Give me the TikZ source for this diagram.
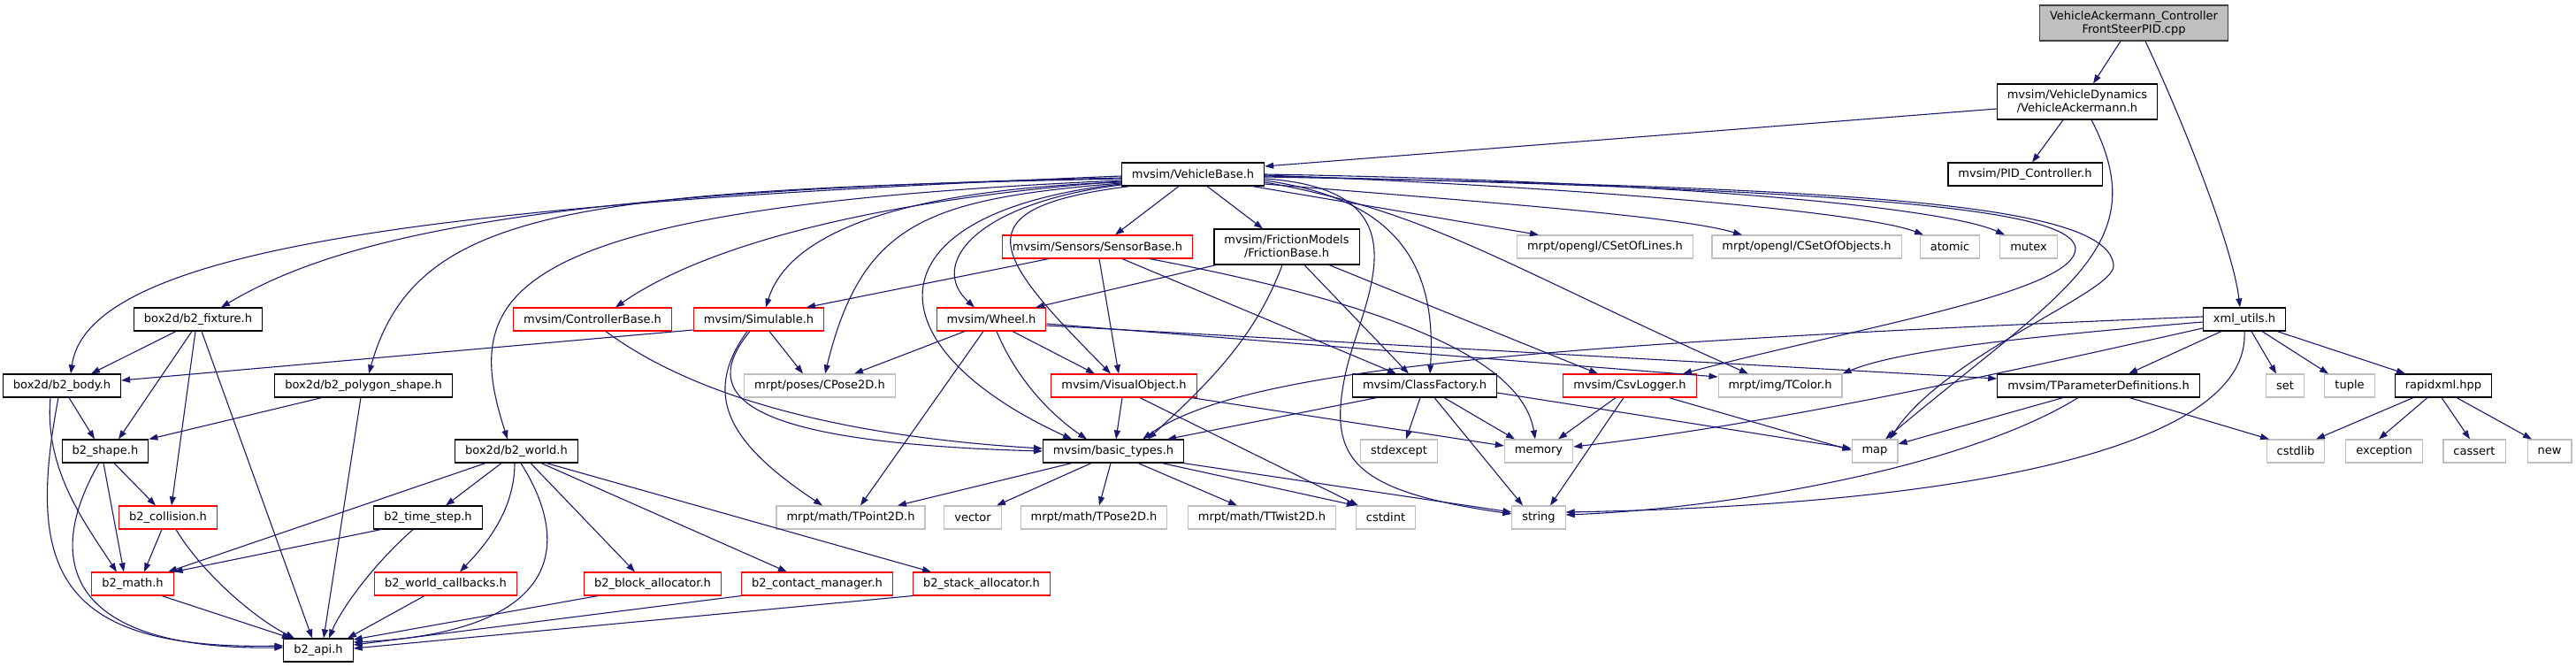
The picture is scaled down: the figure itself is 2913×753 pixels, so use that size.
\documentclass[tikz,border=0pt]{standalone}
\usepackage{fontspec}
\setmainfont{DejaVu Sans}
\usetikzlibrary{positioning, arrows.meta}
\definecolor{edgeblue}{HTML}{191970}
\definecolor{grey75}{HTML}{BFBFBF}
\definecolor{darkgrey}{HTML}{404040}

\begin{document}
\begin{tikzpicture}[
            x=1pt, y=-1pt,
            every node/.style = {
                shape=rectangle, draw=black, line width=1.1pt,
                align=center, font=\fontsize{13}{15}\selectfont,
                inner xsep=11.5pt, inner ysep=0pt, minimum height=26pt
            },
            dep/.style = {draw=edgeblue, line width=1.1pt, -{Triangle[length=10pt,width=7pt]}}
        ]
        \tikzstyle{undoc}=[draw=grey75]
        \tikzstyle{trunc}=[draw=red]
        \tikzstyle{twoline}=[minimum height=40pt]
        \tikzstyle{rootfile}=[fill=grey75, draw=darkgrey, twoline]

        \useasboundingbox (0,0) rectangle (2913,753);

        % top rows
        \node[rootfile] (root) at (2413,26) {VehicleAckermann\_Controller\\FrontSteerPID.cpp};
        \node[twoline] (va) at (2349,115) {mvsim/VehicleDynamics\\/VehicleAckermann.h};
        \node (vb) at (1349,197) {mvsim/VehicleBase.h};
        \node (pid) at (2290,197) {mvsim/PID\_Controller.h};

        \node[trunc] (sensor) at (1241,279) {mvsim/Sensors/SensorBase.h};
        \node[twoline] (friction) at (1455,279) {mvsim/FrictionModels\\/FrictionBase.h};
        \node[undoc] (lines) at (1815,279) {mrpt/opengl/CSetOfLines.h};
        \node[undoc] (objects) at (2043,279) {mrpt/opengl/CSetOfObjects.h};
        \node[undoc] (atomic) at (2205,279) {atomic};
        \node[undoc] (mutex) at (2294,279) {mutex};

        \node (fixture) at (224,361) {box2d/b2\_fixture.h};
        \node[trunc] (ctrl) at (670,361) {mvsim/ControllerBase.h};
        \node[trunc] (simul) at (858,361) {mvsim/Simulable.h};
        \node[trunc] (wheel) at (1121,361) {mvsim/Wheel.h};
        \node (xml) at (2538,361) {xml\_utils.h};

        \node (body) at (70,436) {box2d/b2\_body.h};
        \node (polygon) at (411,436) {box2d/b2\_polygon\_shape.h};
        \node[undoc] (cpose) at (927,436) {mrpt/poses/CPose2D.h};
        \node[trunc] (visual) at (1271,436) {mvsim/VisualObject.h};
        \node (factory) at (1611,436) {mvsim/ClassFactory.h};
        \node[trunc] (csv) at (1843,436) {mvsim/CsvLogger.h};
        \node[undoc] (tcolor) at (2013,436) {mrpt/img/TColor.h};
        \node (tparam) at (2373,436) {mvsim/TParameterDefinitions.h};
        \node[undoc] (set) at (2584,436) {set};
        \node[undoc] (tuple) at (2657,436) {tuple};
        \node (rapidxml) at (2763,436) {rapidxml.hpp};

        \node (shape) at (119,510) {b2\_shape.h};
        \node (world) at (584,510) {box2d/b2\_world.h};
        \node (basic) at (1259,510) {mvsim/basic\_types.h};
        \node[undoc] (stdexcept) at (1582,510) {stdexcept};
        \node[undoc] (memory) at (1740,510) {memory};
        \node[undoc] (map) at (2120,510) {map};
        \node[undoc] (cstdlib) at (2596,510) {cstdlib};
        \node[undoc] (exception) at (2696,510) {exception};
        \node[undoc] (cassert) at (2798,510) {cassert};
        \node[undoc] (new) at (2883,510) {new};

        \node[trunc] (collision) at (190,585) {b2\_collision.h};
        \node (timestep) at (484,585) {b2\_time\_step.h};
        \node[undoc] (tpoint) at (962,585) {mrpt/math/TPoint2D.h};
        \node[undoc] (vector) at (1100,585) {vector};
        \node[undoc] (tpose) at (1237,585) {mrpt/math/TPose2D.h};
        \node[undoc] (ttwist) at (1427,585) {mrpt/math/TTwist2D.h};
        \node[undoc] (cstdint) at (1567,585) {cstdint};
        \node[undoc] (string) at (1740,585) {string};

        \node[trunc] (math) at (150,660) {b2\_math.h};
        \node[trunc] (callbacks) at (504,660) {b2\_world\_callbacks.h};
        \node[trunc] (block) at (738,660) {b2\_block\_allocator.h};
        \node[trunc] (contact) at (924,660) {b2\_contact\_manager.h};
        \node[trunc] (stack) at (1110,660) {b2\_stack\_allocator.h};

        \node (api) at (360,735) {b2\_api.h};

        % root file and VehicleAckermann
        \draw[dep] ([xshift=-15pt]root.south) -- ([xshift=18pt]va.north);
        \draw[dep] ([xshift=13pt]root.south) .. controls (2470,140) and (2525,280) .. ([xshift=-5pt]xml.north);
        \draw[dep] ([yshift=-8pt]va.west) -- ([yshift=9pt]vb.east);
        \draw[dep] ([xshift=-16pt]va.south) -- ([xshift=8pt]pid.north);
        \draw[dep] ([xshift=16pt]va.south) .. controls (2440,280) and (2330,330) .. ([xshift=12pt]map.north);

        % VehicleBase, left side
        \draw[dep] ([yshift=-2pt]vb.west) .. controls (500,230) and (100,280) .. ([xshift=10pt]body.north);
        \draw[dep] ([yshift=-4pt]vb.west) .. controls (600,215) and (380,270) .. ([xshift=26pt]fixture.north);
        \draw[dep] ([yshift=-5pt]vb.west) .. controls (650,215) and (470,235) .. ([xshift=6pt]polygon.north);
        \draw[dep] ([yshift=-7pt]vb.west) .. controls (560,235) and (520,330) .. ([xshift=-10pt]world.north);
        \draw[dep] ([yshift=-8pt]vb.west) .. controls (1000,225) and (800,275) .. ([xshift=26pt]ctrl.north);
        \draw[dep] ([yshift=-9pt]vb.west) .. controls (1000,215) and (890,270) .. ([xshift=8pt]simul.north);
        \draw[dep] ([yshift=-10pt]vb.west) .. controls (1050,225) and (975,250) .. ([xshift=6pt]cpose.north);
        \draw[dep] ([yshift=-11pt]vb.west) .. controls (980,240) and (980,390) .. ([xshift=-47pt]basic.north);
        \draw[dep] ([yshift=-12pt]vb.west) .. controls (1100,230) and (1050,300) .. ([xshift=-19pt]wheel.north);
        \draw[dep] ([xshift=10pt]vb.south west) .. controls (1080,235) and (1125,290) .. ([xshift=-15pt]visual.north);
        \draw[dep] ([xshift=-16pt]vb.south) -- ([xshift=20pt]sensor.north);
        \draw[dep] ([xshift=16pt]vb.south) -- ([xshift=-27pt]friction.north);

        % VehicleBase, right side
        \draw[dep] ([xshift=-14pt]vb.south east) -- ([xshift=-75pt]lines.north);
        \draw[dep] ([yshift=-11pt]vb.east) .. controls (1700,230) and (1900,245) .. ([xshift=-73pt]objects.north);
        \draw[dep] ([yshift=-1pt]vb.east) .. controls (1800,212) and (2110,240) .. ([xshift=-30pt]atomic.north);
        \draw[dep] (vb.east) .. controls (1900,205) and (2200,235) .. ([xshift=-27pt]mutex.north);
        \draw[dep] ([yshift=-2pt]vb.east) .. controls (2100,215) and (2340,235) .. (2347,280)
            .. controls (2350,330) and (2100,370) .. ([xshift=60pt]csv.north);
        \draw[dep] ([yshift=-3pt]vb.east) .. controls (2100,212) and (2385,230) .. (2390,300)
            .. controls (2393,330) and (2200,400) .. ([xshift=17pt]map.north);
        \draw[dep] ([yshift=-9pt]vb.east) .. controls (1620,240) and (1700,300) .. ([xshift=-36pt]tcolor.north);
        \draw[dep] ([yshift=-7pt]vb.east) .. controls (1580,225) and (1625,300) .. ([xshift=6pt]factory.north);
        \draw[dep] ([yshift=-5pt]vb.east) .. controls (1620,215) and (1540,340) .. (1522,420)
            .. controls (1500,520) and (1530,555) .. ([yshift=4pt]string.west);

        % SensorBase and FrictionBase
        \draw[dep] ([xshift=-55pt]sensor.south) -- ([xshift=54pt]simul.north);
        \draw[dep] ([xshift=2pt]sensor.south) -- ([xshift=-6pt]visual.north);
        \draw[dep] ([xshift=28pt]sensor.south) -- ([xshift=-32pt]factory.north);
        \draw[dep] ([xshift=59pt]sensor.south) .. controls (1550,340) and (1720,400) .. ([xshift=-4pt]memory.north);
        \draw[dep] ([xshift=-80pt]friction.south) -- ([xshift=50pt]wheel.north);
        \draw[dep] ([xshift=-5pt]friction.south) .. controls (1420,380) and (1370,430) .. ([xshift=39pt]basic.north);
        \draw[dep] ([xshift=20pt]friction.south) -- ([xshift=-18pt]factory.north);
        \draw[dep] ([xshift=48pt]friction.south) -- ([xshift=-36pt]csv.north);

        % ControllerBase, Simulable, Wheel
        \draw[dep] ([xshift=15pt]ctrl.south) .. controls (760,430) and (900,490) .. ([yshift=3pt]basic.west);
        \draw[dep] ([xshift=-10pt]simul.south) .. controls (790,445) and (830,500) .. (basic.west);
        \draw[dep] ([xshift=-13pt]simul.south) .. controls (790,450) and (830,505) .. ([xshift=-32pt]tpoint.north);
        \draw[dep] ([xshift=12pt]simul.south) -- ([xshift=-19pt]cpose.north);
        \draw[dep] ([yshift=-12pt]simul.west) -- ([yshift=6pt]body.east);
        \draw[dep] ([xshift=-30pt]wheel.south) -- ([xshift=39pt]cpose.north);
        \draw[dep] ([xshift=-9pt]wheel.south) -- ([xshift=11pt]tpoint.north);
        \draw[dep] ([xshift=6pt]wheel.south) .. controls (1150,430) and (1190,470) .. ([xshift=-30pt]basic.north);
        \draw[dep] ([xshift=24pt]wheel.south) -- ([xshift=-33pt]visual.north);
        \draw[dep] ([yshift=-5pt]wheel.east) -- ([yshift=10pt]tcolor.west);
        \draw[dep] ([yshift=-7pt]wheel.east) -- ([yshift=8pt]tparam.west);

        % VisualObject, basic_types
        \draw[dep] ([xshift=-2pt]visual.south) -- ([xshift=3pt]basic.north);
        \draw[dep] ([xshift=18pt]visual.south) -- ([xshift=3pt]cstdint.north west);
        \draw[dep] ([xshift=76pt]visual.south) -- ([yshift=6pt]memory.west);
        \draw[dep] ([xshift=-47pt]basic.south) -- ([xshift=53pt]tpoint.north);
        \draw[dep] ([xshift=-25pt]basic.south) -- ([xshift=27pt]vector.north);
        \draw[dep] ([xshift=-3pt]basic.south) -- ([xshift=6pt]tpose.north);
        \draw[dep] ([xshift=28pt]basic.south) -- ([xshift=-28pt]ttwist.north);
        \draw[dep] ([xshift=55pt]basic.south) -- (cstdint.north west);
        \draw[dep] ([xshift=79pt]basic.south) -- ([yshift=6pt]string.west);

        % ClassFactory, CsvLogger
        \draw[dep] ([xshift=-54pt]factory.south) -- ([xshift=61pt]basic.north);
        \draw[dep] ([xshift=-5pt]factory.south) -- ([xshift=8pt]stdexcept.north);
        \draw[dep] ([xshift=11pt]factory.south) -- ([xshift=-18pt]string.north);
        \draw[dep] ([xshift=22pt]factory.south) -- ([xshift=-27pt]memory.north);
        \draw[dep] ([yshift=-8pt]factory.east) -- ([yshift=3pt]map.west);
        \draw[dep] ([xshift=-16pt]csv.south) -- ([xshift=22pt]memory.north);
        \draw[dep] ([xshift=-7pt]csv.south) -- ([xshift=13pt]string.north);
        \draw[dep] ([xshift=44pt]csv.south) -- ([yshift=1pt]map.west);

        % TParameterDefinitions
        \draw[dep] ([xshift=-40pt]tparam.south) -- ([yshift=8pt]map.east);
        \draw[dep] ([xshift=-23pt]tparam.south) .. controls (2220,530) and (1950,575) .. ([yshift=3pt]string.east);
        \draw[dep] ([xshift=35pt]tparam.south) -- ([xshift=-30pt]cstdlib.north);

        % xml_utils
        \draw[dep] ([xshift=-26pt]xml.south) -- ([xshift=34pt]tparam.north);
        \draw[dep] (xml.south) .. controls (2545,500) and (2250,570) .. ([yshift=6pt]string.east);
        \draw[dep] ([xshift=8pt]xml.south) -- ([xshift=-10pt]set.north);
        \draw[dep] ([xshift=20pt]xml.south) -- ([xshift=-24pt]tuple.north);
        \draw[dep] ([xshift=37pt]xml.south) -- ([xshift=-43pt]rapidxml.north);
        \draw[dep] ([yshift=3pt]xml.west) .. controls (1700,390) and (1400,420) .. ([xshift=33pt]basic.north);
        \draw[dep] ([yshift=-10pt]xml.west) .. controls (2250,425) and (2000,480) .. ([yshift=5pt]memory.east);
        \draw[dep] ([yshift=-3pt]xml.west) .. controls (2300,380) and (2150,395) .. (tcolor.north east);

        % rapidxml
        \draw[dep] ([xshift=-34pt]rapidxml.south) -- ([xshift=23pt]cstdlib.north);
        \draw[dep] ([xshift=-18pt]rapidxml.south) -- ([xshift=-6pt]exception.north);
        \draw[dep] ([xshift=-2pt]rapidxml.south) -- ([xshift=-5pt]cassert.north);
        \draw[dep] ([xshift=15pt]rapidxml.south) -- ([xshift=-20pt]new.north);

        % box2d
        \draw[dep] ([xshift=-4pt]body.south) .. controls (30,640) and (60,735) .. ([yshift=5pt]api.west);
        \draw[dep] ([xshift=8pt]body.south) -- ([xshift=-12pt]shape.north);
        \draw[dep] ([xshift=-13pt]body.south) .. controls (50,530) and (95,590) .. ([xshift=-18pt]math.north);
        \draw[dep] ([xshift=-25pt]fixture.south) -- ([xshift=33pt]body.north);
        \draw[dep] ([xshift=-7pt]fixture.south) -- ([xshift=15pt]shape.north);
        \draw[dep] ([xshift=-3pt]fixture.south) -- ([xshift=4pt]collision.north);
        \draw[dep] ([xshift=4pt]fixture.south) -- ([xshift=-7pt]api.north);
        \draw[dep] ([xshift=-47pt]polygon.south) -- (shape.north east);
        \draw[dep] ([xshift=-3pt]polygon.south) -- ([xshift=6pt]api.north);
        \draw[dep] ([xshift=-7pt]shape.south) .. controls (50,630) and (70,735) .. ([yshift=3pt]api.west);
        \draw[dep] ([xshift=-2pt]shape.south) -- ([xshift=-10pt]math.north);
        \draw[dep] ([xshift=10pt]shape.south) -- ([xshift=-14pt]collision.north);
        \draw[dep] ([xshift=-7pt]collision.south) -- ([xshift=13pt]math.north);
        \draw[dep] ([xshift=9pt]collision.south) .. controls (230,650) and (290,700) .. ([xshift=-27pt]api.north);
        \draw[dep] ([xshift=33pt]math.south) -- ([xshift=-31pt]api.north);
        \draw[dep] ([xshift=-35pt]world.south) -- ([xshift=40pt]math.north);
        \draw[dep] ([xshift=-17pt]world.south) -- ([xshift=20pt]timestep.north);
        \draw[dep] ([xshift=-2pt]world.south) .. controls (582,580) and (545,620) .. ([xshift=16pt]callbacks.north);
        \draw[dep] ([xshift=5pt]world.south) .. controls (650,620) and (630,715) .. ([yshift=9pt]api.east);
        \draw[dep] ([xshift=16pt]world.south) -- ([xshift=-20pt]block.north);
        \draw[dep] ([xshift=28pt]world.south) -- ([xshift=-34pt]contact.north);
        \draw[dep] ([xshift=34pt]world.south) -- ([xshift=-57pt]stack.north);
        \draw[dep] ([xshift=-53pt]timestep.south) -- (math.north east);
        \draw[dep] ([xshift=-17pt]timestep.south) .. controls (420,640) and (385,690) .. ([xshift=12pt]api.north);
        \draw[dep] ([xshift=-24pt]callbacks.south) -- ([xshift=33pt]api.north);
        \draw[dep] ([xshift=-62pt]block.south) -- ([yshift=12pt]api.east);
        \draw[dep] (contact.south west) -- ([yshift=6pt]api.east);
        \draw[dep] (stack.south west) -- ([yshift=2pt]api.east);
\end{tikzpicture}
\end{document}
